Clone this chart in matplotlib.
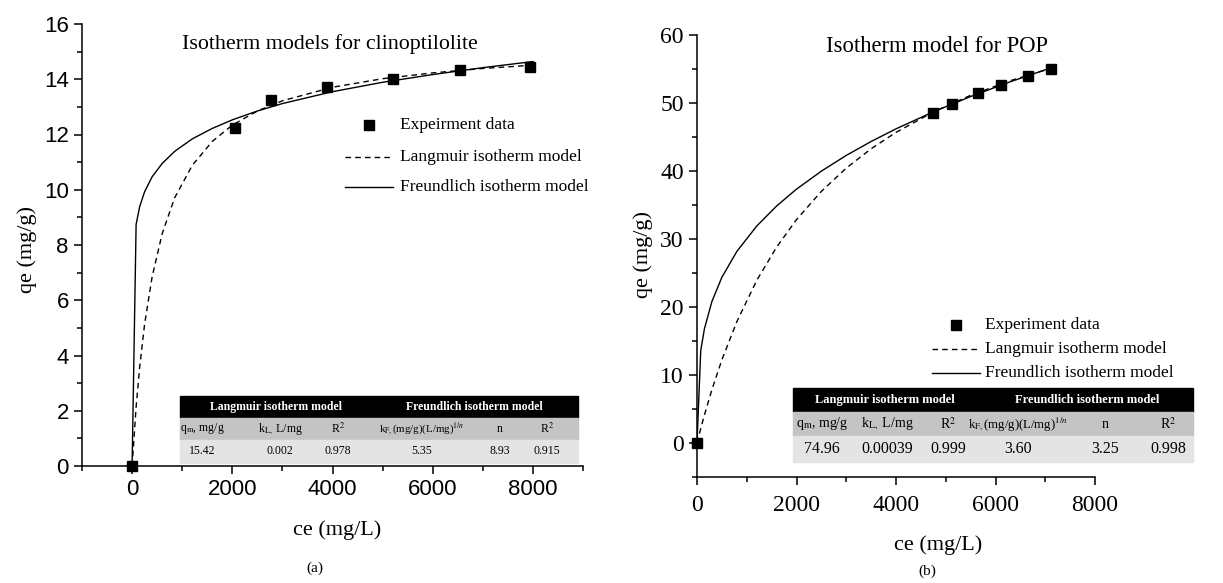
import matplotlib.pyplot as plt
from matplotlib.patches import Rectangle
from matplotlib.lines import Line2D
from matplotlib.ticker import MultipleLocator

plt.rcParams['mathtext.fontset'] = 'stix'

W, H = 1223, 583

# (a) clinoptilolite
ce_exp_a = [0, 2050, 2780, 3900, 5200, 6550, 7950]
qe_exp_a = [0, 12.25, 13.25, 13.72, 14.0, 14.32, 14.45]
ce_fit_a = [0, 80, 150, 250, 400, 600, 850, 1200, 1600, 2000, 2500, 3000, 4000, 5000, 6000, 7000, 8000]
lang_a = [0, 2.13, 3.56, 5.14, 6.85, 8.41, 9.71, 10.88, 11.75, 12.34, 12.85, 13.22, 13.71, 14.02, 14.23, 14.39, 14.51]
freu_a = [0, 8.74, 9.38, 9.93, 10.47, 10.95, 11.39, 11.84, 12.22, 12.53, 12.85, 13.12, 13.55, 13.89, 14.17, 14.42, 14.64]

# (b) POP
ce_exp_b = [0, 4750, 5130, 5650, 6120, 6650, 7120]
qe_exp_b = [0, 48.5, 49.8, 51.4, 52.7, 53.9, 55.0]
ce_fit_b = [0, 75, 150, 300, 500, 800, 1200, 1600, 2000, 2500, 3000, 3500, 4000, 4750, 5500, 6300, 7120]
lang_b = [0, 2.13, 4.14, 7.85, 12.23, 17.83, 23.90, 28.80, 32.85, 37.01, 40.42, 43.27, 45.68, 48.68, 51.13, 53.28, 55.11]
freu_b = [0, 13.59, 16.82, 20.82, 24.37, 28.16, 31.90, 34.85, 37.33, 39.98, 42.29, 44.34, 46.20, 48.70, 50.95, 53.13, 55.18]

# fitted parameters shown in the tables
head_row = ['q$_{\\rm m}$, mg/g', 'k$_{\\rm L,}$ L/mg', 'R$^2$',
            'k$_{\\rm F,}$(mg/g)(L/mg)$^{1/n}$', 'n', 'R$^2$']
vals_a = ['15.42', '0.002', '0.978', '5.35', '8.93', '0.915']
vals_b = ['74.96', '0.00039', '0.999', '3.60', '3.25', '0.998']

serif = 'Liberation Serif'
sans = 'Liberation Sans'


def fx(px):
    return px / W


def fy(py):
    return 1 - py / H


fig = plt.figure(figsize=(W / 100, H / 100), dpi=100)

ax1 = fig.add_axes([fx(82), fy(466), fx(583) - fx(82), fy(24) - fy(466)])
ax2 = fig.add_axes([fx(697), fy(477), fx(1095) - fx(697), fy(35) - fy(477)])

for ax in (ax1, ax2):
    for s in ('top', 'right'):
        ax.spines[s].set_visible(False)
    ax.spines['left'].set_linewidth(1.1)
    ax.spines['bottom'].set_linewidth(1.1)
    ax.tick_params(which='major', direction='out', length=6, width=1.1)
    ax.tick_params(which='minor', direction='out', length=3.5, width=1.1)

# panel (a)
ax1.plot(ce_fit_a, lang_a, '--', color='black', lw=1.0, dashes=(4, 3))
ax1.plot(ce_fit_a, freu_a, '-', color='black', lw=1.0)
ax1.plot(ce_exp_a, qe_exp_a, 's', color='black', ms=7, clip_on=False, zorder=5)
ax1.set_xlim(-1000, 9000)
ax1.set_ylim(0, 16)
ax1.xaxis.set_major_locator(MultipleLocator(2000))
ax1.xaxis.set_minor_locator(MultipleLocator(1000))
ax1.yaxis.set_major_locator(MultipleLocator(2))
ax1.yaxis.set_minor_locator(MultipleLocator(1))
for lab in ax1.get_xticklabels() + ax1.get_yticklabels():
    lab.set_fontfamily(sans)
    lab.set_fontsize(16)

# panel (b)
ax2.plot(ce_fit_b, lang_b, '--', color='black', lw=1.0, dashes=(4, 3))
ax2.plot(ce_fit_b, freu_b, '-', color='black', lw=1.0)
ax2.plot(ce_exp_b, qe_exp_b, 's', color='black', ms=7, clip_on=False, zorder=5)
ax2.set_xlim(0, 8000)
ax2.set_ylim(-5, 60)
ax2.set_yticks([0, 10, 20, 30, 40, 50, 60])
ax2.xaxis.set_major_locator(MultipleLocator(2000))
ax2.xaxis.set_minor_locator(MultipleLocator(1000))
ax2.yaxis.set_minor_locator(MultipleLocator(5))
ax2.tick_params(axis='x', pad=7)
for lab in ax2.get_xticklabels() + ax2.get_yticklabels():
    lab.set_fontfamily(serif)
    lab.set_fontsize(17)

# axis labels, titles, captions
fig.text(fx(27), fy(250), 'qe (mg/g)', rotation=90, ha='center', va='center', family=serif, fontsize=16)
fig.text(fx(643), fy(255), 'qe (mg/g)', rotation=90, ha='center', va='center', family=serif, fontsize=16)
fig.text(fx(337), fy(530), 'ce (mg/L)', ha='center', va='center', family=serif, fontsize=16)
fig.text(fx(938), fy(545), 'ce (mg/L)', ha='center', va='center', family=serif, fontsize=16)
fig.text(fx(315), fy(568), '(a)', ha='center', va='center', family=serif, fontsize=11)
fig.text(fx(927), fy(571), '(b)', ha='center', va='center', family=serif, fontsize=11)
fig.text(fx(330), fy(44), 'Isotherm models for clinoptilolite', ha='center', va='center', family=serif, fontsize=15.8)
fig.text(fx(937), fy(47), 'Isotherm model for POP', ha='center', va='center', family=serif, fontsize=16.3)


def legend(x_line0, x_line1, x_text, ys, labels):
    xm = (x_line0 + x_line1) / 2
    fig.add_artist(Line2D([fx(xm)], [fy(ys[0])], marker='s', color='black', ms=7, ls='none'))
    fig.add_artist(Line2D([fx(x_line0), fx(x_line1)], [fy(ys[1])] * 2, color='black', lw=1.0, ls='--', dashes=(4, 3)))
    fig.add_artist(Line2D([fx(x_line0), fx(x_line1)], [fy(ys[2])] * 2, color='black', lw=1.0))
    for y, t in zip(ys, labels):
        fig.text(fx(x_text), fy(y), t, ha='left', va='center', family=serif, fontsize=12.5)


legend(345, 393, 400, [125, 157, 187],
       ['Expeirment data', 'Langmuir isotherm model', 'Freundlich isotherm model'])
legend(932, 980, 985, [325, 349, 373],
       ['Experiment data', 'Langmuir isotherm model', 'Freundlich isotherm model'])


def table(x0, x1, top, hs, col_x, head_x, vals, fs_head, fs_lab, fs_val):
    y0, y1, y2, y3 = top, top + hs[0], top + hs[0] + hs[1], top + sum(hs)
    fig.add_artist(Rectangle((fx(x0), fy(y1)), fx(x1) - fx(x0), fy(y0) - fy(y1),
                             transform=fig.transFigure, color='black'))
    fig.add_artist(Rectangle((fx(x0), fy(y2)), fx(x1) - fx(x0), fy(y1) - fy(y2),
                             transform=fig.transFigure, color='#c4c4c4'))
    fig.add_artist(Rectangle((fx(x0), fy(y3)), fx(x1) - fx(x0), fy(y2) - fy(y3),
                             transform=fig.transFigure, color='#e4e4e4'))
    fig.text(fx(head_x[0]), fy((y0 + y1) / 2), 'Langmuir isotherm model',
             ha='center', va='center', color='white', weight='bold', family=serif, fontsize=fs_head)
    fig.text(fx(head_x[1]), fy((y0 + y1) / 2), 'Freundlich isotherm model',
             ha='center', va='center', color='white', weight='bold', family=serif, fontsize=fs_head)
    for i, (cx, h, v) in enumerate(zip(col_x, head_row, vals)):
        fs = fs_lab * 0.92 if i == 3 else fs_lab
        fig.text(fx(cx), fy((y1 + y2) / 2), h, ha='center', va='center', family=serif, fontsize=fs)
        fig.text(fx(cx), fy((y2 + y3) / 2), v, ha='center', va='center', family=serif, fontsize=fs_val)


table(180, 578, 396, [22, 22, 23], [202, 280, 338, 422, 500, 547], [276, 474],
      vals_a, 8.5, 8.5, 8.5)
table(793, 1193, 388, [24, 24, 26], [822, 887, 948, 1018, 1105, 1168], [885, 1087],
      vals_b, 9, 10, 11.5)

fig.savefig('out.png', dpi=100)
